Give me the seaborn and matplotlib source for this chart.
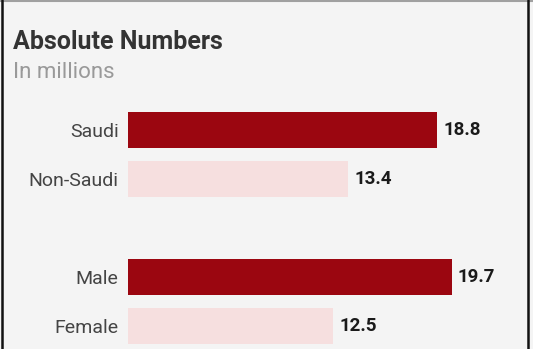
import pandas as pd
import matplotlib.pyplot as plt
import seaborn as sns

# --- Données (en millions) ---
categories = ["Saudi", "Non-Saudi", "Male", "Female"]
values = [18.8, 13.4, 19.7, 12.5]
order = ["Saudi", "Non-Saudi", " ", "Male", "Female"]  # " " = espace entre les deux groupes
colors = {"Saudi": "#9b0610", "Non-Saudi": "#f6dfdf", "Male": "#9b0610", "Female": "#f6dfdf"}

df = pd.DataFrame({"cat": categories, "val": values})

sns.set_theme(style="white")
plt.rcParams["font.family"] = ["Roboto", "DejaVu Sans"]

W, H = 533, 349
fig = plt.figure(figsize=(W / 100, H / 100), dpi=100)
fig.patch.set_facecolor("#f4f4f4")

# axe positionné en pixels
left_px, px_per_unit, xmax = 127.7, 16.45, 24.0
top_px, row_px, first_px = 100, 49, 130
ax = fig.add_axes([left_px / W, 0, xmax * px_per_unit / W, (H - top_px) / H])
ax.set_facecolor("none")

sns.barplot(data=df, y="cat", x="val", hue="cat", order=order, palette=colors,
            legend=False, width=0.755, linewidth=0, saturation=1, ax=ax)

ax.set_xlim(0, xmax)
ax.set_ylim((H - first_px) / row_px, -(first_px - top_px) / row_px)
ax.set_xlabel("")
ax.set_ylabel("")
ax.set_xticks([])
ax.tick_params(axis="y", length=0, pad=6.5, labelsize=14, labelcolor="#444444")
for s in ax.spines.values():
    s.set_visible(False)

# étiquettes de valeur
for c, v in zip(categories, values):
    ax.text(v + 0.37, order.index(c), f"{v}", va="center", ha="left",
            fontsize=13.5, fontweight="bold", color="#1a1a1a")

# titre et sous-titre
fig.text(13.3 / W, 1 - 49 / H, "Absolute Numbers", fontsize=18, fontweight="bold",
         color="#333333", va="baseline", ha="left")
fig.text(13.3 / W, 1 - 78 / H, "In millions", fontsize=16, color="#999999",
         va="baseline", ha="left")

# cadre
fig.add_artist(plt.Line2D([0, 1], [1 - 1 / H, 1 - 1 / H], color="#a0a0a0", lw=1.5,
                          transform=fig.transFigure))
fig.add_artist(plt.Line2D([2 / W, 2 / W], [0, 1], color="#111111", lw=1.8,
                          transform=fig.transFigure))
fig.add_artist(plt.Line2D([528 / W, 528 / W], [0, 1], color="#111111", lw=1.8,
                          transform=fig.transFigure))

fig.savefig("out.png", dpi=100, facecolor=fig.get_facecolor())
